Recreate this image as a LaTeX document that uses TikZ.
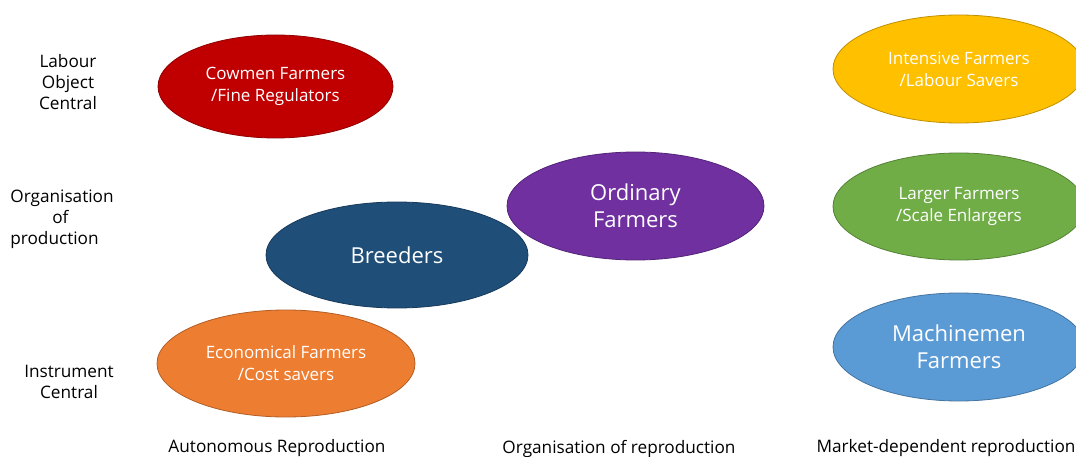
\documentclass[tikz,border=0pt]{standalone}
\usepackage{fontspec}
\setmainfont{Open Sans}
\usetikzlibrary{shapes.geometric}
\definecolor{cRed}{HTML}{C00000}
\definecolor{cGold}{HTML}{FFC000}
\definecolor{cGreen}{HTML}{70AD47}
\definecolor{cBlue}{HTML}{5B9BD5}
\definecolor{cPurple}{HTML}{7030A0}
\definecolor{cNavy}{HTML}{1F4E79}
\definecolor{cOrange}{HTML}{ED7D31}
\tikzset{
  farm/.style={ellipse, inner sep=0pt, text=white, align=center,
    line width=0.8pt, fill=#1, draw=#1!75!black,
    font=\fontsize{17}{22}\selectfont},
  bigfarm/.style={farm=#1, font=\fontsize{22}{27}\selectfont},
  axislabel/.style={align=center, text=black, font=\fontsize{17.2}{21}\selectfont},
}
\begin{document}
\begin{tikzpicture}[x=1pt,y=-1pt]
  \useasboundingbox (0,0) rectangle (1076,457);
  \fill[white] (0,0) rectangle (1076,457);

  % row labels
  \node[axislabel] (rowA) at (68,82) {Labour\\Object\\Central};
  \node[axislabel, align=left] (rowB) at (62,219) {Organisation\\\hspace*{42pt}of\\production};
  \node[axislabel] (rowC) at (69,382) {Instrument\\Central};

  % column labels
  \node[axislabel] (colA) at (277,448.5) {Autonomous Reproduction};
  \node[axislabel] (colB) at (619,448.5) {Organisation of reproduction};
  \node[axislabel] (colC) at (946,448.5) {Market-dependent reproduction};

  % farmer types
  \node[farm=cRed, minimum width=235pt, minimum height=103pt] (cowmen) at (275.5,86.5) {Cowmen Farmers\\/Fine Regulators};
  \node[farm=cOrange, minimum width=258pt, minimum height=107pt] (econ) at (286,363.5) {Economical Farmers\\/Cost savers};
  \node[bigfarm=cNavy, minimum width=262pt, minimum height=106pt] (breeders) at (397,255) {Breeders};
  \node[bigfarm=cPurple, minimum width=257pt, minimum height=108pt] (ordinary) at (635.5,206) {Ordinary\\Farmers};
  \node[farm=cGold, minimum width=252pt, minimum height=108pt] (intensive) at (959,69) {Intensive Farmers\\/Labour Savers};
  \node[farm=cGreen, minimum width=252pt, minimum height=107pt] (larger) at (959,206.5) {Larger Farmers\\/Scale Enlargers};
  \node[bigfarm=cBlue, minimum width=252pt, minimum height=108pt] (machine) at (959,347) {Machinemen\\Farmers};
\end{tikzpicture}
\end{document}
